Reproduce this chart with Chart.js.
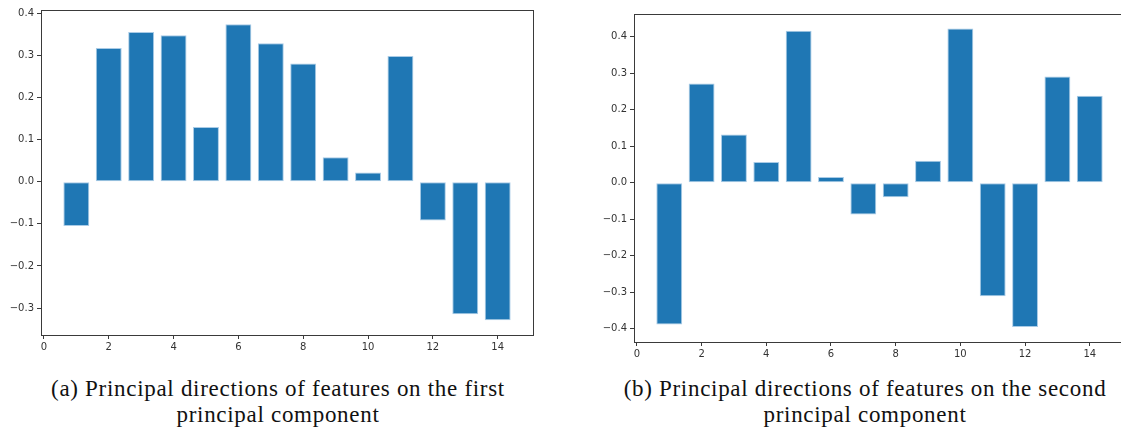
<!DOCTYPE html>
<html>
<head>
<meta charset="utf-8">
<script src="https://cdn.jsdelivr.net/npm/chart.js@4.4.1/dist/chart.umd.min.js"></script>
<style>
  html, body { margin: 0; padding: 0; background: #fff; overflow: hidden; width: 1121px; height: 430px; }
  .box { position: absolute; }
  .caption {
    position: absolute;
    font-family: "Liberation Serif", "DejaVu Serif", serif;
    font-size: 23px;
    letter-spacing: 0.7px;
    line-height: 26px;
    color: #111;
    text-align: center;
    white-space: nowrap;
  }
</style>
</head>
<body>
<div class="box" style="left:0;top:0;width:560px;height:360px;"><canvas id="pc1"></canvas></div>
<div class="box" style="left:560px;top:0;width:600px;height:370px;"><canvas id="pc2"></canvas></div>
<div class="caption" style="left:18px;top:376px;width:520px;">(a) Principal directions of features on the first<br>principal component</div>
<div class="caption" style="left:605px;top:376px;width:520px;">(b) Principal directions of features on the second<br>principal component</div>

<script>
// Feature indices (x positions of the bars)
const features = [1, 2, 3, 4, 5, 6, 7, 8, 9, 10, 11, 12, 13, 14];

// Loadings of each feature on the first principal component
const pc1Loadings = [-0.105, 0.318, 0.356, 0.348, 0.130, 0.374, 0.329, 0.281, 0.058, 0.022, 0.299, -0.092, -0.315, -0.329];

// Loadings of each feature on the second principal component
const pc2Loadings = [-0.388, 0.272, 0.132, 0.057, 0.416, 0.016, -0.087, -0.040, 0.060, 0.422, -0.311, -0.395, 0.291, 0.238];

// Axis tick labels
const xTickLabels = ['0', '2', '4', '6', '8', '10', '12', '14'];

const AXIS_COLOR = '#3a3a3a';
const TEXT_COLOR = '#333333';
const BAR_COLOR = '#1f77b4';

// Closed frame around the plotting area
const framePlugin = {
  id: 'frame',
  afterDraw(chart) {
    const { ctx, chartArea: a } = chart;
    ctx.save();
    ctx.strokeStyle = AXIS_COLOR;
    ctx.lineWidth = 1;
    ctx.strokeRect(Math.round(a.left) + 0.5, Math.round(a.top) + 0.5,
                   Math.round(a.right - a.left), Math.round(a.bottom - a.top));
    ctx.restore();
  }
};

function fmtY(v) {
  const s = Math.abs(v).toFixed(1);
  return v < -1e-9 ? '\u2212' + s : s;
}

function makeChart(id, values, cfg) {
  return new Chart(document.getElementById(id), {
    type: 'bar',
    data: {
      datasets: [{
        data: features.map((f, i) => ({ x: f, y: values[i] })),
        backgroundColor: BAR_COLOR,
        borderColor: '#a9cbe6',
        borderWidth: 1,
        borderSkipped: false,
        barPercentage: 1.0,
        categoryPercentage: 0.8
      }]
    },
    options: {
      responsive: true,
      maintainAspectRatio: false,
      animation: false,
      events: [],
      layout: { padding: { left: 0, top: cfg.top, right: cfg.right, bottom: 0 } },
      plugins: { legend: { display: false }, tooltip: { enabled: false } },
      scales: {
        x: {
          type: 'linear',
          min: -0.09,
          max: 15.09,
          offset: false,
          afterFit(scale) { scale.height = cfg.xHeight; },
          afterBuildTicks(scale) {
            scale.ticks = xTickLabels.map(t => ({ value: Number(t) }));
          },
          grid: { display: true, offset: false, drawOnChartArea: false, drawTicks: true, tickLength: 4, color: AXIS_COLOR, lineWidth: 1 },
          border: { display: true, color: AXIS_COLOR, width: 1 },
          ticks: {
            autoSkip: false, maxRotation: 0, minRotation: 0, padding: 2,
            color: TEXT_COLOR,
            font: { family: 'DejaVu Sans', size: 10 },
            callback: v => String(v)
          }
        },
        y: {
          type: 'linear',
          min: cfg.ymin,
          max: cfg.ymax,
          afterFit(scale) { scale.width = cfg.yWidth; },
          afterBuildTicks(scale) {
            scale.ticks = cfg.yTicks.map(v => ({ value: v }));
          },
          grid: { display: true, offset: false, drawOnChartArea: false, drawTicks: true, tickLength: 4, color: AXIS_COLOR, lineWidth: 1 },
          border: { display: true, color: AXIS_COLOR, width: 1 },
          ticks: {
            padding: 3,
            color: TEXT_COLOR,
            font: { family: 'DejaVu Sans', size: 10 },
            callback: v => fmtY(v)
          }
        }
      }
    },
    plugins: [framePlugin]
  });
}

makeChart('pc1', pc1Loadings, {
  ymin: -0.364, ymax: 0.408,
  yTicks: [-0.3, -0.2, -0.1, 0.0, 0.1, 0.2, 0.3, 0.4],
  top: 10, right: 27, yWidth: 41, xHeight: 25
});

makeChart('pc2', pc2Loadings, {
  ymin: -0.436, ymax: 0.462,
  yTicks: [-0.4, -0.3, -0.2, -0.1, 0.0, 0.1, 0.2, 0.3, 0.4],
  top: 14, right: 35, yWidth: 74, xHeight: 28
});
</script>
</body>
</html>
